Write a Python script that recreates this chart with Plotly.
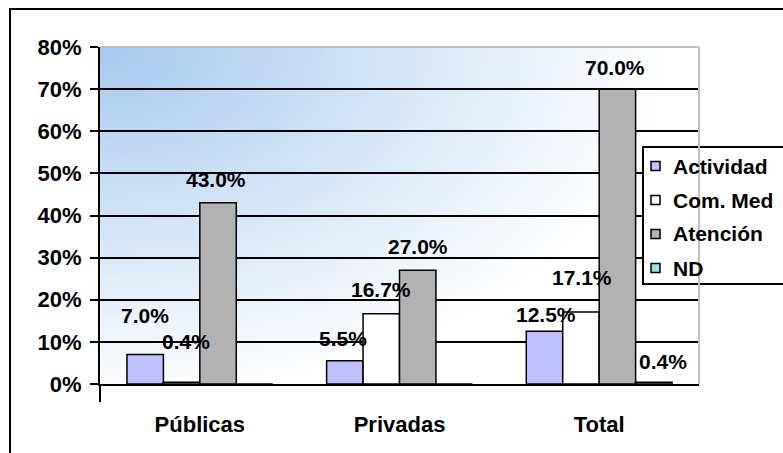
import base64
import struct
import zlib

import plotly.graph_objects as go

CATEGORIAS = ['Públicas', 'Privadas', 'Total']
SERIES = ['Actividad', 'Com. Med', 'Atención', 'ND']

ACTIVIDAD = [7.0, 5.5, 12.5]
COM_MED = [0.4, 16.7, 17.1]
ATENCION = [43.0, 27.0, 70.0]
ND = [0.0, 0.0, 0.4]

Y_TICKS = [0, 10, 20, 30, 40, 50, 60, 70, 80]

COLORES = ['#c0c0ff', '#ffffff', '#b2b2b2', '#a0e0e0']
FUENTE = 'Liberation Sans, Arial, sans-serif'

# desplazamiento (px) de cada etiqueta respecto al tope de su barra, como en el original
ETIQUETA_DX = [[0, -2, 1], [4, 0, 1], [-2, 0, -2], [0, 0, 9]]
ETIQUETA_DY = [[39, 22, 17], [41, 24, 34], [23, 24, 22], [0, 0, 21]]

ANCHO, ALTO = 783, 453
M_IZQ, M_DER, M_SUP, M_INF = 100, 84, 47, 69
BARGAP = 0.27


def px_x(x):
    # pixel horizontal -> coordenada paper
    return (x - M_IZQ) / (ANCHO - M_IZQ - M_DER)


def px_y(y):
    # pixel vertical -> coordenada paper
    return (ALTO - M_INF - y) / (ALTO - M_SUP - M_INF)


def gradiente_png(w=160, h=90):
    # Fondo del área de trazado: azul claro en la esquina superior izquierda que se desvanece a blanco
    azul = (168, 202, 239)
    filas = []
    for j in range(h):
        fila = bytearray([0])
        for i in range(w):
            s = ((i / (w - 1) / 0.95) ** 2 + (j / (h - 1) / 1.05) ** 2) ** 0.5
            s = min(1.0, s)
            for c in azul:
                fila.append(int(round(c + (255 - c) * s)))
        filas.append(bytes(fila))

    def chunk(tag, data):
        c = struct.pack('>I', len(data)) + tag + data
        return c + struct.pack('>I', zlib.crc32(tag + data) & 0xffffffff)

    png = (b'\x89PNG\r\n\x1a\n'
           + chunk(b'IHDR', struct.pack('>IIBBBBB', w, h, 8, 2, 0, 0, 0))
           + chunk(b'IDAT', zlib.compress(b''.join(filas), 9))
           + chunk(b'IEND', b''))
    return 'data:image/png;base64,' + base64.b64encode(png).decode()


fig = go.Figure()
valores_series = [ACTIVIDAD, COM_MED, ATENCION, ND]
for nombre, valores, color in zip(SERIES, valores_series, COLORES):
    fig.add_trace(go.Bar(
        x=CATEGORIAS,
        y=valores,
        name=nombre,
        marker=dict(color=color, line=dict(color='black', width=1.5)),
        showlegend=False
    ))

# etiquetas de datos
ancho_barra = (1 - BARGAP) / len(SERIES)
anotaciones = []
for j, valores in enumerate(valores_series):
    for i, v in enumerate(valores):
        if v == 0:
            continue
        anotaciones.append(dict(
            x=i + (j - (len(SERIES) - 1) / 2) * ancho_barra,
            y=v,
            xref='x', yref='y',
            text=f'{v:.1f}%',
            showarrow=False,
            xanchor='center', yanchor='middle',
            xshift=ETIQUETA_DX[j][i], yshift=ETIQUETA_DY[j][i],
            font=dict(family=FUENTE, size=21, color='black', weight='bold')
        ))

# leyenda dibujada a mano (en el original sobresale del borde derecho)
formas = []
formas.append(dict(type='rect', xref='paper', yref='paper',
                   x0=px_x(643), x1=px_x(1400), y0=px_y(284), y1=px_y(147),
                   line=dict(color='black', width=2), fillcolor='white', layer='above'))
for k, (nombre, color) in enumerate(zip(SERIES, COLORES)):
    yc = 166 + k * 34
    formas.append(dict(type='rect', xref='paper', yref='paper',
                       x0=px_x(651), x1=px_x(660), y0=px_y(yc + 4.5), y1=px_y(yc - 4.5),
                       line=dict(color='black', width=1.5), fillcolor=color, layer='above'))
    anotaciones.append(dict(
        x=px_x(671), y=px_y(yc), xref='paper', yref='paper',
        text=nombre, showarrow=False, xanchor='left', yanchor='middle',
        font=dict(family=FUENTE, size=21, color='black', weight='bold')
    ))

# borde gris del área de trazado (arriba y derecha)
formas.append(dict(type='line', xref='paper', yref='paper', x0=0, x1=1, y0=1, y1=1,
                   line=dict(color='#c0c0c0', width=2), layer='above'))
formas.append(dict(type='line', xref='paper', yref='paper', x0=1, x1=1, y0=0, y1=1,
                   line=dict(color='#c0c0c0', width=2), layer='above'))
# prolongación del eje vertical bajo el eje de categorías
formas.append(dict(type='line', xref='paper', yref='paper', x0=0, x1=0, y0=0, y1=px_y(402),
                   line=dict(color='black', width=2), layer='above'))
# marco exterior del gráfico
formas.append(dict(type='rect', xref='paper', yref='paper',
                   x0=px_x(10), x1=px_x(1400), y0=px_y(900), y1=px_y(9),
                   line=dict(color='black', width=2), fillcolor='rgba(0,0,0,0)', layer='above'))

fig.update_layout(
    width=ANCHO,
    height=ALTO,
    margin=dict(l=M_IZQ, r=M_DER, t=M_SUP, b=M_INF, pad=0),
    paper_bgcolor='white',
    plot_bgcolor='white',
    barmode='group',
    bargap=BARGAP,
    bargroupgap=0,
    showlegend=False,
    font=dict(family=FUENTE, color='black'),
    images=[dict(source=gradiente_png(), xref='paper', yref='paper', x=0, y=1,
                 sizex=1, sizey=1, sizing='stretch', xanchor='left', yanchor='top',
                 layer='below')],
    shapes=formas,
    annotations=anotaciones,
    xaxis=dict(
        showline=True, linecolor='black', linewidth=2,
        ticks='', showgrid=False,
        tickfont=dict(family=FUENTE, size=22, color='black', weight='bold'),
        ticklabelstandoff=20
    ),
    yaxis=dict(
        range=[0, 80],
        tickvals=Y_TICKS,
        ticktext=[f'{v}%' for v in Y_TICKS],
        showgrid=True, gridcolor='black', gridwidth=1.5,
        showline=True, linecolor='black', linewidth=2,
        zeroline=False,
        ticks='outside', ticklen=8, tickwidth=2, tickcolor='black',
        tickfont=dict(family=FUENTE, size=22, color='black', weight='bold'),
        ticklabelstandoff=4
    )
)

# el navegador añade 8px de margen al body; se quita para que el lienzo empiece en (0,0)
fig.write_html("out.html", config={'displayModeBar': False},
               post_script="document.body.style.margin='0px';document.body.style.overflow='hidden';")
